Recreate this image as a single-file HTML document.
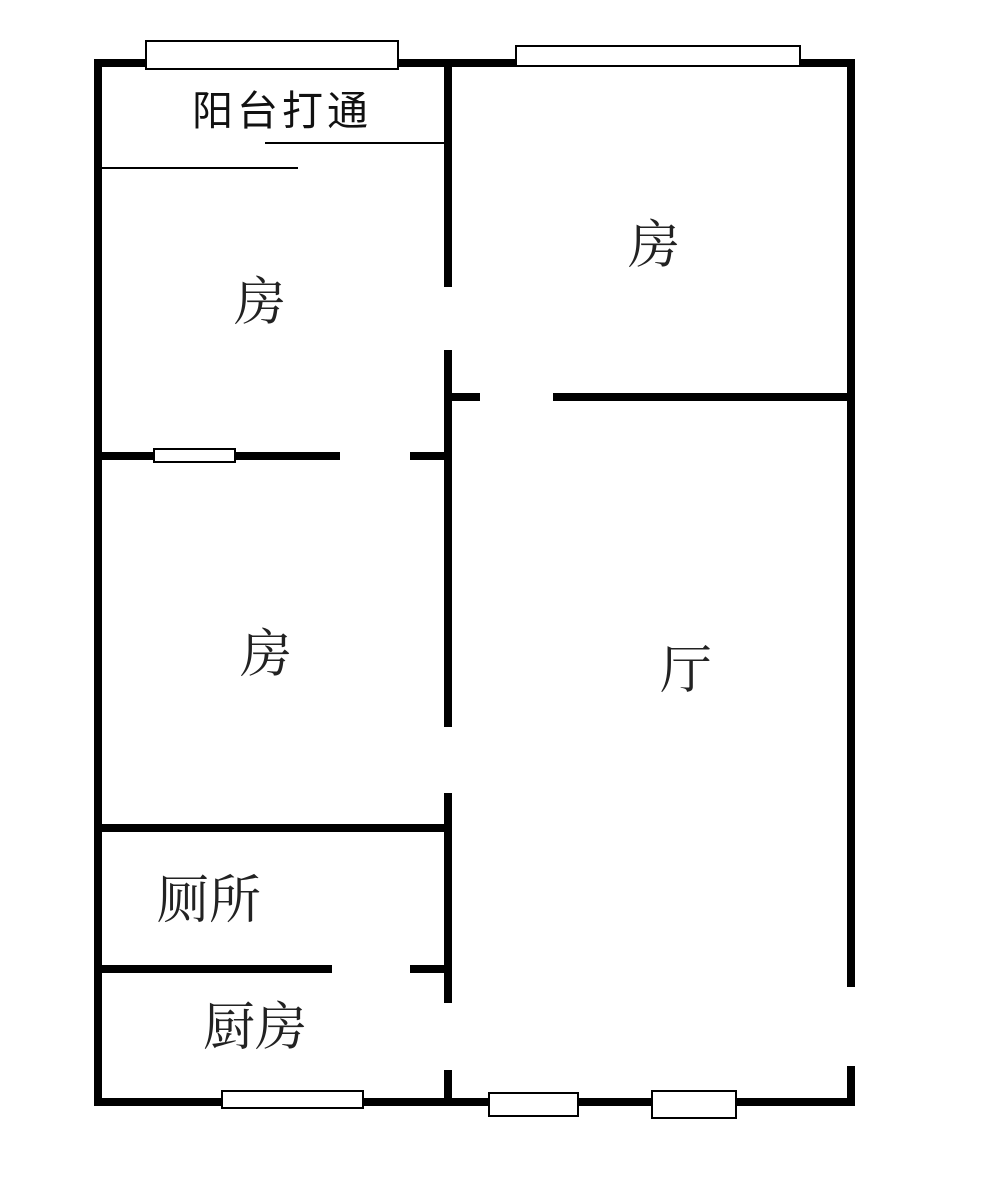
<!DOCTYPE html>
<html><head><meta charset="utf-8"><style>
html,body{margin:0;padding:0;background:#fff;}
svg{display:block}
.t{font-family:"Liberation Serif","Noto Serif CJK SC",serif;fill:#222;}
.s{font-family:"Liberation Sans","Noto Sans CJK SC",sans-serif;fill:#111;}
</style></head><body>
<svg width="1000" height="1188" viewBox="0 0 1000 1188" xmlns="http://www.w3.org/2000/svg">
<g stroke="#000" stroke-width="8" stroke-linecap="butt" fill="none">
<line x1="98" y1="59" x2="98" y2="1106"/>
<line x1="94" y1="63" x2="855" y2="63"/>
<line x1="94" y1="1102" x2="855" y2="1102"/>
<line x1="851" y1="59" x2="851" y2="987"/>
<line x1="851" y1="1066" x2="851" y2="1106"/>
<line x1="448" y1="59" x2="448" y2="287"/>
<line x1="448" y1="350" x2="448" y2="727"/>
<line x1="448" y1="793" x2="448" y2="1003"/>
<line x1="448" y1="1070" x2="448" y2="1106"/>
<line x1="448" y1="397" x2="480" y2="397"/>
<line x1="553" y1="397" x2="855" y2="397"/>
<line x1="98" y1="456" x2="340" y2="456"/>
<line x1="410" y1="456" x2="448" y2="456"/>
<line x1="98" y1="828" x2="448" y2="828"/>
<line x1="98" y1="969" x2="332" y2="969"/>
<line x1="410" y1="969" x2="448" y2="969"/>
</g>
<g stroke="#000" stroke-width="2" fill="none">
<line x1="265" y1="143" x2="445" y2="143"/>
<line x1="100" y1="168" x2="298" y2="168"/>
</g>
<g stroke="#000" stroke-width="2" fill="#fff">
<rect x="146" y="41" width="252" height="28"/>
<rect x="516" y="46" width="284" height="20"/>
<rect x="154" y="449" width="81" height="13"/>
<rect x="222" y="1091" width="141" height="17"/>
<rect x="489" y="1093" width="89" height="23"/>
<rect x="652" y="1091" width="84" height="27"/>
</g>
<text class="s" x="192" y="125" font-size="41" letter-spacing="4">阳台打通</text>
<text class="t" x="234" y="320" font-size="52">房</text>
<text class="t" x="628" y="263" font-size="52">房</text>
<text class="t" x="240" y="672" font-size="52">房</text>
<text class="t" x="660" y="688" font-size="52">厅</text>
<text class="t" x="157" y="918" font-size="52">厕所</text>
<text class="t" x="203" y="1045" font-size="52">厨房</text>
</svg>
</body></html>
